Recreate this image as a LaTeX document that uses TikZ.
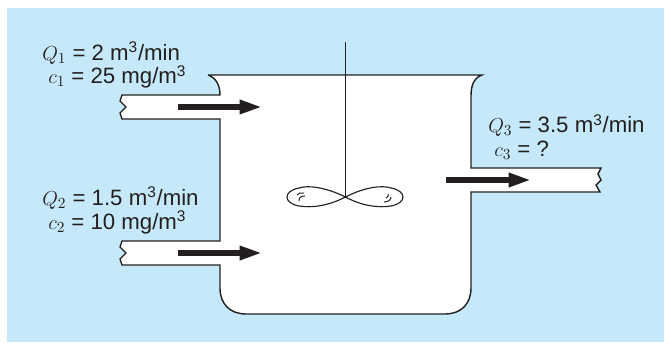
\documentclass[tikz,border=0pt]{standalone}
\usepackage{fontspec}
\setmainfont{Liberation Sans}
\usepackage{tikz}
\usetikzlibrary{arrows.meta}
\DeclareMathSizes{15.8}{15}{11}{8}
\definecolor{AzulFondo}{RGB}{198,233,250}
\definecolor{NegroLinea}{RGB}{35,31,32}
\tikzset{
  pared/.style={draw=NegroLinea,line width=1pt},
  flujo/.style={-{Triangle[length=16pt,width=9.5pt]},line width=3.8pt,NegroLinea},
  dato/.style={anchor=base west,inner sep=0pt,text=NegroLinea,font=\fontsize{15.8}{18}\selectfont}
}
\begin{document}
\begin{tikzpicture}[x=0.025cm,y=-0.025cm]
  \useasboundingbox (0,0) rectangle (664,342);
  \fill[AzulFondo] (7,8) rectangle (664,342);
  % tanque y tubos
  \path[fill=white] (208,75)--(482,75) .. controls (474,78) and (471,85) .. (471,96)
    --(471,168)--(601,168)--(598,174)--(601,180)--(596,185)--(600,192)--(471,192)
    --(471,288) .. controls (471,304) and (461,314) .. (445,314)
    --(246,314) .. controls (230,314) and (220,304) .. (220,288)
    --(220,265)--(122,265)--(120,259)--(126,253)--(120,247)--(122,241)--(220,241)
    --(220,119)--(122,119)--(120,113)--(126,107)--(120,101)--(122,95)--(220,95)
    .. controls (220,85) and (216,78) .. (208,75)--cycle;
  \draw[pared] (208,75)--(482,75) .. controls (474,78) and (471,85) .. (471,96)
    --(471,168)--(601,168)--(598,174)--(601,180)--(596,185)--(600,192)--(471,192)
    --(471,288) .. controls (471,304) and (461,314) .. (445,314)
    --(246,314) .. controls (230,314) and (220,304) .. (220,288)
    --(220,265)--(122,265)--(120,259)--(126,253)--(120,247)--(122,241)--(220,241)
    --(220,119)--(122,119)--(120,113)--(126,107)--(120,101)--(122,95)--(220,95)
    .. controls (220,85) and (216,78) .. (208,75);
  % agitador
  \coordinate (eje) at (345.5,197);
  \draw[pared] (345.5,42)--(eje);
  \draw[pared,line width=0.8pt] (eje) .. controls (325,187) and (308,185) .. (299,188)
    .. controls (283,191) and (283,203) .. (299,206)
    .. controls (312,208) and (328,206) .. (eje)
    .. controls (365,187) and (382,185) .. (391,188)
    .. controls (407,191) and (407,203) .. (391,206)
    .. controls (378,208) and (362,206) .. (eje);
  \draw[pared,line width=0.7pt] (297,195) .. controls (298,193) and (300,193) .. (304,193);
  \draw[pared,line width=0.7pt] (299,201) .. controls (299,197) and (301,196) .. (305,196);
  \draw[pared,line width=0.7pt] (384,202) .. controls (388,202) and (391,200) .. (391,197);
  \draw[pared,line width=0.7pt] (386,198) .. controls (388,197) and (389,196) .. (388,194);
  % flechas
  \coordinate (e1) at (178,107);
  \coordinate (f1) at (262,107);
  \coordinate (e2) at (178,253);
  \coordinate (f2) at (262,253);
  \coordinate (e3) at (446,180);
  \coordinate (f3) at (531,180);
  \draw[flujo] (e1)--(f1);
  \draw[flujo] (e2)--(f2);
  \draw[flujo] (e3)--(f3);
  % datos
  \node[dato] (q1) at (42,60) {$Q_1$ = 2 m\textsuperscript{3}/min};
  \node[dato] (c1) at (48,83.5) {$c_1$ = 25 mg/m\textsuperscript{3}};
  \node[dato] (q2) at (42,205) {$Q_2$ = 1.5 m\textsuperscript{3}/min};
  \node[dato] (c2) at (48,229) {$c_2$ = 10 mg/m\textsuperscript{3}};
  \node[dato] (q3) at (488,132.5) {$Q_3$ = 3.5 m\textsuperscript{3}/min};
  \node[dato] (c3) at (494,156) {$c_3$ = ?};
\end{tikzpicture}
\end{document}
